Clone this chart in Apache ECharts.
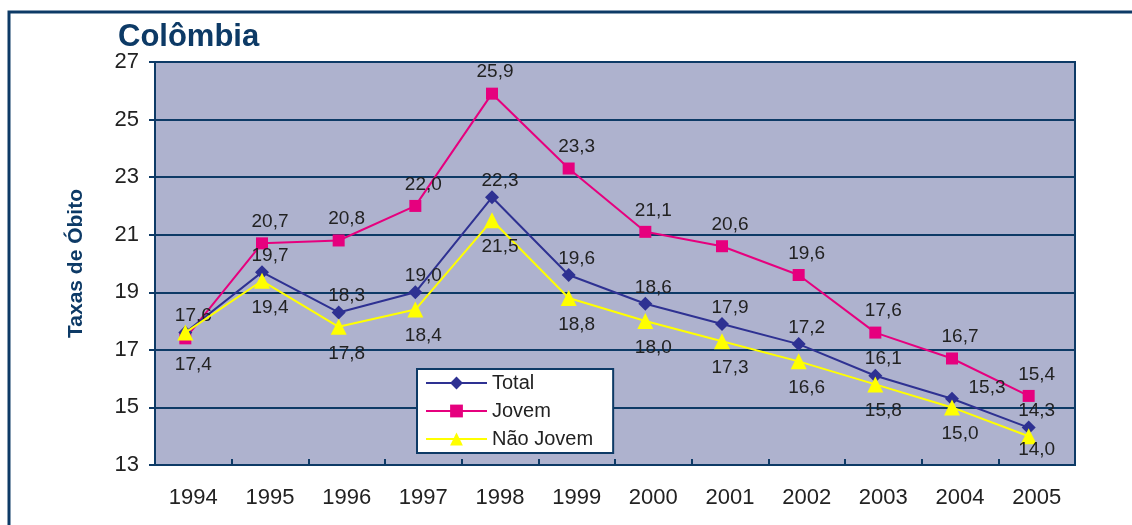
<!DOCTYPE html>
<html>
<head>
<meta charset="utf-8">
<script src="https://cdn.jsdelivr.net/npm/echarts@6/dist/echarts.min.js"></script>
<style>
  html, body { margin: 0; padding: 0; background: #fff; }
  #chart { width: 1132px; height: 525px; }
</style>
</head>
<body>
<div id="chart"></div>
<script>
// anos
const years = ['1994', '1995', '1996', '1997', '1998', '1999', '2000', '2001', '2002', '2003', '2004', '2005']
// taxas de óbito
const total = [17.6, 19.7, 18.3, 19.0, 22.3, 19.6, 18.6, 17.9, 17.2, 16.1, 15.3, 14.3]
const jovem = [17.4, 20.7, 20.8, 22.0, 25.9, 23.3, 21.1, 20.6, 19.6, 17.6, 16.7, 15.4]
const naoJovem = [17.6, 19.4, 17.8, 18.4, 21.5, 18.8, 18.0, 17.3, 16.6, 15.8, 15.0, 14.0]

const navy = '#0d3a66'
const font = 'Liberation Sans, Arial, sans-serif'
const fmt = p => p.value.toFixed(1).replace('.', ',')

const chart = echarts.init(document.getElementById('chart'))

const labelBase = {
  show: true,
  formatter: fmt,
  color: '#222',
  fontSize: 19,
  fontFamily: font,
  offset: [8, 0]
}

// os marcadores ficam um pouco à esquerda do centro da categoria, como no original
const shift = 8

chart.setOption({
  animation: false,
  backgroundColor: '#fff',
  title: {
    text: 'Colômbia',
    left: 113,
    top: 17,
    textStyle: { color: navy, fontSize: 31, fontWeight: 'bold', fontFamily: font }
  },
  graphic: [{
    type: 'rect',
    shape: { x: 9, y: 12, width: 1200, height: 600 },
    style: { fill: 'none', stroke: navy, lineWidth: 3 },
    silent: true
  }],
  grid: [
    { left: 155, right: 57, top: 62, bottom: 60, show: true, backgroundColor: '#aeb2ce', borderColor: navy, borderWidth: 2 },
    { left: 155 - shift, right: 57 + shift, top: 62, bottom: 60 }
  ],
  legend: {
    orient: 'vertical',
    left: 417,
    top: 369,
    backgroundColor: '#fff',
    borderColor: navy,
    borderWidth: 2,
    padding: [4, 20, 4, 8],
    itemWidth: 61,
    itemHeight: 16,
    itemGap: 8,
    textStyle: { color: '#222', fontSize: 20, fontFamily: font },
    data: ['Total', 'Jovem', 'Não Jovem']
  },
  xAxis: [
    {
      type: 'category',
      gridIndex: 0,
      data: years,
      boundaryGap: true,
      axisLine: { lineStyle: { color: navy, width: 2 } },
      axisTick: { show: true, inside: true, length: 6, lineStyle: { color: navy, width: 2 } },
      axisLabel: { color: '#222', fontSize: 22, margin: 22, fontFamily: font },
      splitLine: { show: false }
    },
    {
      type: 'category',
      gridIndex: 1,
      data: years,
      boundaryGap: true,
      show: false
    }
  ],
  yAxis: [
    {
      type: 'value',
      gridIndex: 0,
      min: 13,
      max: 27,
      interval: 2,
      name: 'Taxas de Óbito',
      nameLocation: 'middle',
      nameGap: 68,
      nameTextStyle: { color: navy, fontSize: 21, fontWeight: 'bold', fontFamily: font },
      axisLine: { show: true, lineStyle: { color: navy, width: 2 } },
      axisTick: { show: true, length: 6, lineStyle: { color: navy, width: 2 } },
      axisLabel: { color: '#222', fontSize: 22, margin: 16, fontFamily: font },
      splitLine: { lineStyle: { color: navy, width: 2 } }
    },
    {
      type: 'value',
      gridIndex: 1,
      min: 13,
      max: 27,
      interval: 2,
      show: false,
      splitLine: { show: false }
    }
  ],
  series: [
    {
      name: 'Total',
      type: 'line',
      xAxisIndex: 1,
      yAxisIndex: 1,
      data: total.map((v, i) => i === 10
        ? { value: v, label: { offset: [35, 5] } }
        : v),
      symbol: 'diamond',
      symbolSize: 14,
      color: '#2e3192',
      lineStyle: { width: 2, color: '#2e3192' },
      label: Object.assign({}, labelBase, { position: 'top', distance: 0 }),
      z: 3
    },
    {
      name: 'Jovem',
      type: 'line',
      xAxisIndex: 1,
      yAxisIndex: 1,
      data: jovem.map((v, i) => {
        if (i === 0) return { value: v, label: { position: 'bottom', distance: 11 } }
        if (i === 4) return { value: v, label: { offset: [3, 0] } }
        return v
      }),
      symbol: 'rect',
      symbolSize: 12,
      color: '#e6007e',
      lineStyle: { width: 2, color: '#e6007e' },
      label: Object.assign({}, labelBase, { position: 'top', distance: 6 }),
      z: 2
    },
    {
      name: 'Não Jovem',
      type: 'line',
      xAxisIndex: 1,
      yAxisIndex: 1,
      data: naoJovem.map((v, i) => {
        if (i === 0) return { value: v, label: { show: false } }
        if (i === 11) return { value: v, label: { distance: -4 } }
        return v
      }),
      symbol: 'triangle',
      symbolSize: 16,
      color: '#ffff00',
      lineStyle: { width: 2, color: '#ffff00' },
      label: Object.assign({}, labelBase, { position: 'bottom', distance: 9 }),
      z: 4
    }
  ]
})
</script>
</body>
</html>
